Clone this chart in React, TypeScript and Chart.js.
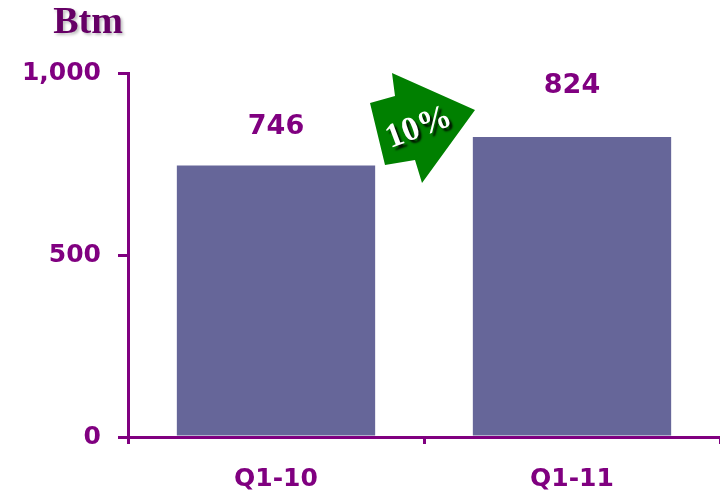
import React, { useEffect, useRef } from "react";
import { Chart, registerables } from "chart.js";
Chart.register(...registerables);

const categories = ["Q1-10", "Q1-11"];
const values = [746, 824];
const yTicks = [0, 500, 1000];
const growthLabel = "10%";
const unitLabel = "Btm";

const PURPLE = "#800080";
const BAR = "#666699";
const SANS = "'DejaVu Sans', Arial, sans-serif";
const SERIF = "'Liberation Serif', 'Times New Roman', serif";
const labelOffsets = [38, 51];

const decorPlugin = {
  id: "decor",
  afterDatasetsDraw(chart: any) {
    const ctx = chart.ctx;
    const meta = chart.getDatasetMeta(0);
    // value labels
    ctx.save();
    ctx.fillStyle = PURPLE;
    ctx.font = `bold 27px ${SANS}`;
    ctx.textAlign = "center";
    ctx.textBaseline = "middle";
    meta.data.forEach((bar: any, i: number) => {
      ctx.fillText(String(values[i]), bar.x, bar.y - labelOffsets[i]);
    });
    ctx.restore();

    // unit title
    ctx.save();
    ctx.font = `bold 38px ${SERIF}`;
    ctx.fillStyle = "#660066";
    ctx.textAlign = "center";
    ctx.textBaseline = "middle";
    ctx.shadowColor = "rgba(0,0,0,0.25)";
    ctx.shadowOffsetX = 2;
    ctx.shadowOffsetY = 2;
    ctx.shadowBlur = 3;
    ctx.fillText(unitLabel, 88, 23);
    ctx.restore();

    // growth arrow between the bars
    const b0 = meta.data[0];
    const b1 = meta.data[1];
    const cx = (b0.x + b1.x) / 2;
    const top = chart.chartArea.top;
    const pts = [
      [-54, 30], [-29, 23], [-32, 0], [51, 37], [-2, 110], [-9, 87], [-39, 92],
    ];
    ctx.save();
    ctx.beginPath();
    pts.forEach(([dx, dy], i) => {
      const x = cx + dx;
      const y = top + dy;
      if (i === 0) ctx.moveTo(x, y);
      else ctx.lineTo(x, y);
    });
    ctx.closePath();
    ctx.fillStyle = "#008000";
    ctx.fill();
    ctx.translate(cx - 5, top + 55);
    ctx.rotate(-0.36);
    ctx.font = `bold 34px ${SERIF}`;
    ctx.textAlign = "center";
    ctx.textBaseline = "middle";
    ctx.shadowColor = "rgba(0,0,0,0.85)";
    ctx.shadowOffsetX = 3;
    ctx.shadowOffsetY = 3;
    ctx.shadowBlur = 2;
    ctx.fillStyle = "#ffffff";
    ctx.fillText(growthLabel, 0, 0);
    ctx.restore();
  },
};

export default function App() {
  const ref = useRef<HTMLCanvasElement>(null);
  useEffect(() => {
    if (!ref.current) return;
    const chart = new Chart(ref.current, {
      type: "bar",
      data: {
        labels: categories,
        datasets: [
          {
            data: values,
            backgroundColor: BAR,
            borderWidth: 0,
            barPercentage: 0.67,
            categoryPercentage: 1,
          },
        ],
      },
      options: {
        animation: false,
        responsive: false,
        maintainAspectRatio: false,
        layout: { padding: { top: 73, right: 0, left: 0, bottom: 0 } },
        plugins: { legend: { display: false }, tooltip: { enabled: false } },
        scales: {
          x: {
            offset: true,
            grid: {
              offset: true,
              drawOnChartArea: false,
              drawTicks: true,
              tickLength: 7,
              color: PURPLE,
              lineWidth: 3,
            },
            border: { color: PURPLE, width: 3 },
            ticks: {
              color: PURPLE,
              font: { family: SANS, size: 25, weight: "bold" },
              padding: 20,
            },
            afterFit: (s: any) => {
              s.height = 56;
            },
          },
          y: {
            min: 0,
            max: 1000,
            afterBuildTicks: (s: any) => {
              s.ticks = yTicks.map((v) => ({ value: v }));
            },
            grid: {
              drawOnChartArea: false,
              drawTicks: true,
              tickLength: 10,
              color: PURPLE,
              lineWidth: 3,
            },
            border: { color: PURPLE, width: 3 },
            ticks: {
              color: PURPLE,
              font: { family: SANS, size: 25, weight: "bold" },
              padding: 17,
              callback: (v: any) => Number(v).toLocaleString("en-US"),
            },
            afterFit: (s: any) => {
              s.width = 128;
            },
          },
        },
      },
      plugins: [decorPlugin],
    });
    return () => chart.destroy();
  }, []);
  return (
    <div style={{ position: "fixed", left: 0, top: 0, width: 720, height: 493, background: "#fff" }}>
      <canvas ref={ref} width={720} height={493} style={{ display: "block" }} />
    </div>
  );
}
